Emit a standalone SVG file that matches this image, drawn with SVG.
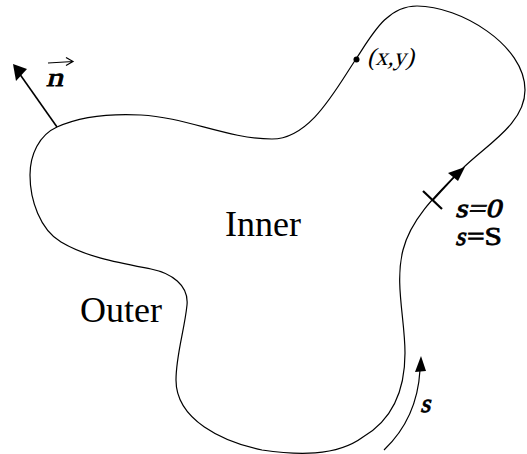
<svg xmlns="http://www.w3.org/2000/svg" width="527" height="454" viewBox="0 0 527 454">
<style>
.ln{fill:none;stroke:#000;stroke-width:1.2}
.ar{fill:none;stroke:#000;stroke-width:1.6}
.tk{fill:none;stroke:#000;stroke-width:2.2}
.hd{fill:#000;stroke:none}
.tr{font-family:"Liberation Serif","Times New Roman",serif;font-weight:normal;fill:#000}
.bd{stroke:#000;stroke-width:0.8}
</style>
<rect width="527" height="454" fill="#fff"/>
<g id="boundary">
<path class="ln" d="M57,127 C82.5,115.5 113,113.6 141,115 C185,117 228,139 272,139 C310,139 335,90.5 356,59 C372.5,34 387,6 417,6 C460,6 525,45 525,90 C525,124 486,145 462,169 C438.6,192.4 411,218 403,250 C394.5,283 405,319 405,353 C405,390 392,420 363,437 C336,457 296,455 262,450 C223,442 176,420 176,380 C176,355 184.5,330 187,305 C189,285 171,273 151,269 C120,263 87,257.5 61,242 C40,229.5 30,200 30,175 C30,155 39,135 57,127 Z"/>
</g>
<g id="point">
<circle cx="356.5" cy="59.5" r="3" fill="#000"/>
<g transform="translate(367,65) skewX(-14)">
<text class="tr" x="0" y="0" font-size="25" textLength="47" lengthAdjust="spacingAndGlyphs">(x,y)</text>
</g>
</g>
<g id="normal">
<line class="ar" x1="57" y1="127" x2="19" y2="73"/>
<polygon class="hd" points="13,64 27,69 16,81"/>
<g transform="translate(46,86) skewX(-14)">
<text class="tr bd" x="0" y="0" font-size="26" textLength="17" lengthAdjust="spacingAndGlyphs">n</text>
</g>
<path class="ln" d="M48,63 L73,61.5 M66,57.5 L73,61.5 L66,65.5"/>
</g>
<g id="labels">
<text class="tr" x="225" y="236" font-size="36">Inner</text>
<text class="tr" x="80" y="322" font-size="36">Outer</text>
</g>
<g id="start">
<line class="tk" x1="423" y1="191" x2="442" y2="209"/>
<line class="ar" x1="433" y1="200" x2="456" y2="175"/>
<polygon class="hd" points="465,167 448,173 458,181"/>
<g transform="translate(455,217) skewX(-14)">
<text class="tr bd" x="0" y="0" font-size="26" textLength="46" lengthAdjust="spacingAndGlyphs">s=0</text>
</g>
<g transform="translate(455,245) skewX(-14)">
<text class="tr bd" x="0" y="0" font-size="26">s</text>
</g>
<text class="tr bd" x="467" y="245" font-size="26" textLength="35" lengthAdjust="spacingAndGlyphs">=S</text>
</g>
<g id="direction">
<path class="ln" d="M384,450 C405,430 418,405 420,370"/>
<polygon class="hd" points="421,356 415,372 426,371"/>
<g transform="translate(420,412) skewX(-14)">
<text class="tr bd" x="0" y="0" font-size="26">s</text>
</g>
</g>
</svg>
